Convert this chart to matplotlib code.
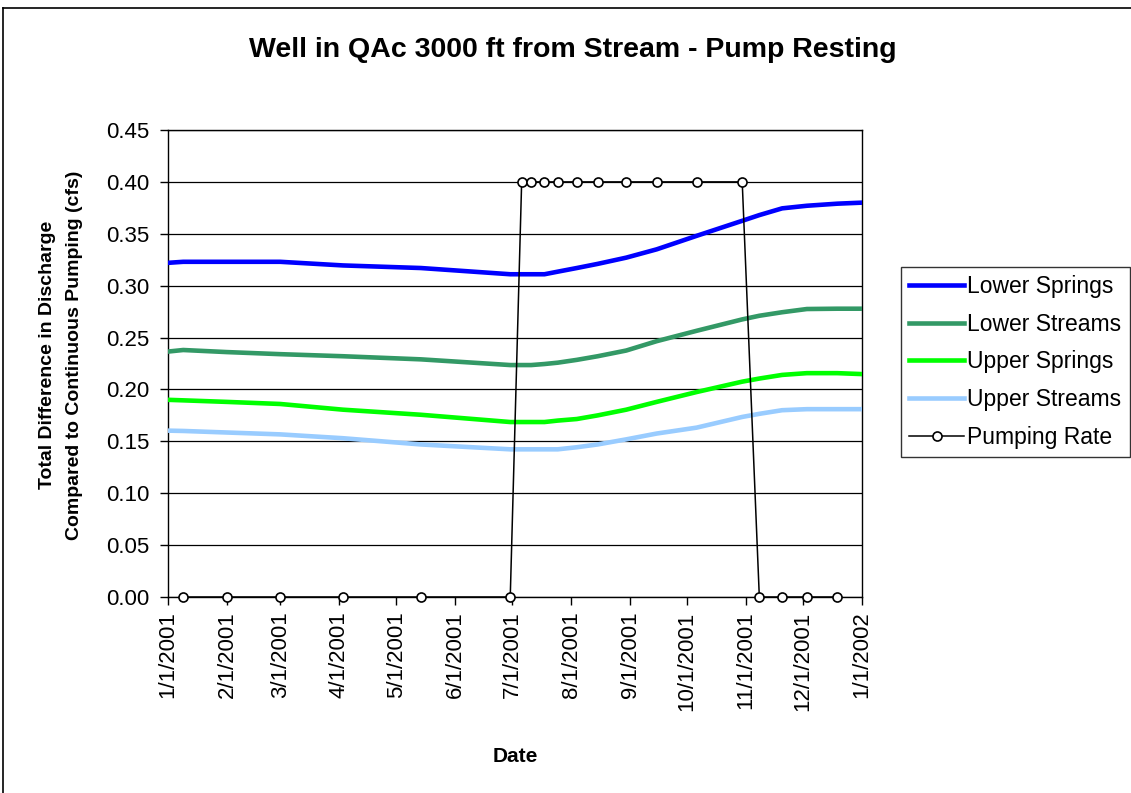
import matplotlib
matplotlib.use('Agg')
import matplotlib.pyplot as plt
import matplotlib.dates as mdates
from matplotlib.ticker import FuncFormatter, MultipleLocator
from datetime import datetime

plt.rcParams['font.family'] = ['Liberation Sans', 'DejaVu Sans']

# flow series dates and values (cfs)
flow_dates = ['2001-01-01', '2001-01-09', '2001-02-01', '2001-03-01', '2001-04-03',
              '2001-05-14', '2001-06-30', '2001-07-06', '2001-07-11', '2001-07-18',
              '2001-07-25', '2001-08-04', '2001-08-15', '2001-08-30', '2001-09-15',
              '2001-10-06', '2001-10-30', '2001-11-08', '2001-11-20', '2001-12-03',
              '2001-12-19', '2002-01-01']
lower_springs = [0.322, 0.323, 0.323, 0.323, 0.3195, 0.317, 0.311, 0.311, 0.311, 0.311,
                 0.3135, 0.317, 0.321, 0.327, 0.335, 0.348, 0.3625, 0.368, 0.3745, 0.377,
                 0.379, 0.380]
lower_streams = [0.2365, 0.238, 0.236, 0.234, 0.232, 0.229, 0.2235, 0.2235, 0.2235, 0.2245,
                 0.2258, 0.2285, 0.232, 0.2375, 0.2465, 0.2565, 0.2675, 0.271, 0.2744, 0.2775,
                 0.2778, 0.2778]
upper_springs = [0.190, 0.1895, 0.188, 0.186, 0.1805, 0.1756, 0.1686, 0.1686, 0.1686, 0.1686,
                 0.170, 0.1715, 0.175, 0.1805, 0.188, 0.1975, 0.2075, 0.2105, 0.214, 0.2157,
                 0.2157, 0.2148]
upper_streams = [0.1603, 0.160, 0.1585, 0.1567, 0.153, 0.147, 0.1423, 0.1423, 0.1423, 0.1423,
                 0.1423, 0.1443, 0.147, 0.1519, 0.1575, 0.1632, 0.1735, 0.1765, 0.180, 0.181,
                 0.181, 0.181]

pump_dates = ['2001-01-09', '2001-02-01', '2001-03-01', '2001-04-03', '2001-05-14',
              '2001-06-30', '2001-07-06', '2001-07-11', '2001-07-18', '2001-07-25',
              '2001-08-04', '2001-08-15', '2001-08-30', '2001-09-15', '2001-10-06',
              '2001-10-30', '2001-11-08', '2001-11-20', '2001-12-03', '2001-12-19']
pump_rate = [0, 0, 0, 0, 0, 0, 0.4, 0.4, 0.4, 0.4,
             0.4, 0.4, 0.4, 0.4, 0.4, 0.4, 0, 0, 0, 0]

fd = [datetime.strptime(d, '%Y-%m-%d') for d in flow_dates]
pd_ = [datetime.strptime(d, '%Y-%m-%d') for d in pump_dates]

W, H = 1131, 793
fig = plt.figure(figsize=(W / 100, H / 100), dpi=100)
ax = fig.add_axes([168 / W, 1 - 597 / H, (862 - 168) / W, (597 - 130) / H])

ax.plot(fd, lower_springs, color='#0000FF', lw=3.3, label='Lower Springs', zorder=3)
ax.plot(fd, lower_streams, color='#339966', lw=3.3, label='Lower Streams', zorder=3)
ax.plot(fd, upper_springs, color='#00FF00', lw=3.3, label='Upper Springs', zorder=3)
ax.plot(fd, upper_streams, color='#99CCFF', lw=3.3, label='Upper Streams', zorder=3)
ax.plot(pd_, pump_rate, color='black', lw=1.1, marker='o', ms=6.5,
        mfc='white', mec='black', mew=1.2, label='Pumping Rate', zorder=4, clip_on=False)

ax.set_xlim(datetime(2001, 1, 1), datetime(2002, 1, 1))
ax.set_ylim(0, 0.45)
ax.yaxis.set_major_locator(MultipleLocator(0.05))
ax.yaxis.set_major_formatter(FuncFormatter(lambda v, p: f'{v:.2f}'))
ax.xaxis.set_major_locator(mdates.MonthLocator())


def fmt_date(v, p):
    d = mdates.num2date(v)
    return f'{d.month}/{d.day}/{d.year}'


ax.xaxis.set_major_formatter(FuncFormatter(fmt_date))
ax.grid(axis='y', color='black', lw=0.9)
ax.set_axisbelow(True)
for s in ax.spines.values():
    s.set_color('black')
    s.set_linewidth(1)
ax.tick_params(axis='both', direction='out', length=5.5, width=1, labelsize=16, color='black')
ax.tick_params(axis='x', pad=5, labelrotation=90)
ax.tick_params(axis='y', pad=8)

fig.text(573 / W, 1 - 50 / H, 'Well in QAc 3000 ft from Stream - Pump Resting',
         ha='center', va='center', fontsize=20.5, fontweight='bold')
fig.text(61 / W, 1 - 355 / H,
         'Total Difference in Discharge\nCompared to Continuous Pumping (cfs)',
         ha='center', va='center', rotation=90, fontsize=14, fontweight='bold',
         multialignment='center', linespacing=1.7)
fig.text(515 / W, 1 - 757 / H, 'Date', ha='center', va='center', fontsize=15,
         fontweight='bold')

leg = fig.legend(loc='upper left', bbox_to_anchor=(901 / W, 1 - 267 / H),
                 fontsize=16.5, frameon=True, fancybox=False, borderpad=0.35,
                 labelspacing=0.64, handlelength=2.4, handletextpad=0.15,
                 borderaxespad=0)
leg.get_frame().set_edgecolor('black')
leg.get_frame().set_linewidth(1)

# chart border
fig.add_artist(plt.Line2D([3 / W, 3 / W], [0, 1 - 8 / H], color='black', lw=1.2,
                          transform=fig.transFigure))
fig.add_artist(plt.Line2D([3 / W, 1], [1 - 8 / H, 1 - 8 / H], color='black', lw=1.2,
                          transform=fig.transFigure))

fig.savefig('out.png', dpi=100)
